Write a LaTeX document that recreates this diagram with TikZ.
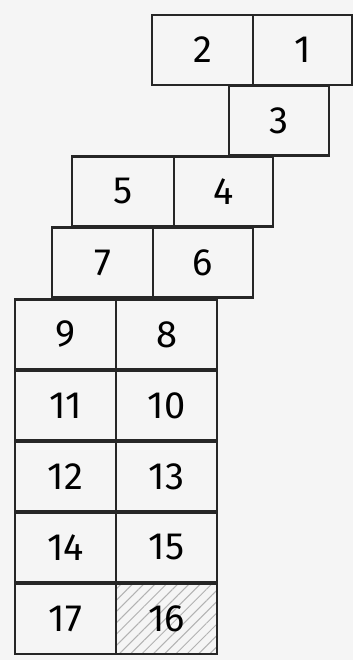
\documentclass[tikz,border=0pt]{standalone}
\usepackage{fontspec}
\setsansfont{Fira Sans}
\usepackage{tikz}
\usetikzlibrary{patterns.meta}
\tikzset{
  cell/.style={draw=black!85,line width=2.2pt,minimum height=70pt,inner sep=0pt,font=\sffamily\fontsize{38}{44}\selectfont},
  wide/.style={cell,minimum width=101pt},
  hatched/.style={wide,pattern={Lines[angle=45,distance=8pt,line width=1pt]},pattern color=gray!60},
}
\begin{document}
\begin{tikzpicture}[x=1pt,y=-1pt]
  \useasboundingbox (0,0) rectangle (353,660);
  \fill[black!4] (0,0) rectangle (353,660);
  % stepped top part
  \node[cell,minimum width=99pt] (c1) at (302.5,50) {1};
  \node[wide] (c2) at (202.5,50) {2};
  \node[cell,minimum width=100pt] (c3) at (279,120.5) {3};
  \node[cell,minimum width=99pt] (c4) at (223.5,191.5) {4};
  \node[cell,minimum width=102pt] (c5) at (123,191.5) {5};
  \node[cell,minimum width=100pt] (c6) at (203,262.5) {6};
  \node[wide] (c7) at (102.5,262.5) {7};
  % two column block
  \foreach \l/\r [count=\i from 0] in {9/8,11/10,12/13,14/15}{
    \node[wide] (c\l) at (65.5,334.5+71*\i) {\l};
    \node[wide] (c\r) at (166.5,334.5+71*\i) {\r};
  }
  \node[wide] (c17) at (65.5,619) {17};
  \node[hatched] (c16) at (166.5,619) {16};
\end{tikzpicture}
\end{document}
